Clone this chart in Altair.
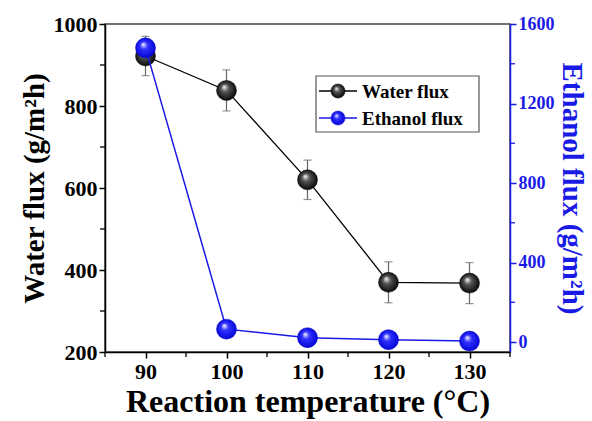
import altair as alt
import pandas as pd

temps = [90, 100, 110, 120, 130]
water = [922, 838, 620, 370, 368]
water_err = [48, 50, 48, 50, 50]
ethanol = [1480, 65, 22, 12, 5]
ethanol_err = [30, 35, 35, 35, 35]

x_minor = [85, 95, 105, 115, 125, 135]
yw_minor = [300, 500, 700, 900]
ye_minor = [200, 600, 1000, 1400]

df = pd.DataFrame({
    "T": temps, "water": water, "ethanol": ethanol,
    "w_lo": [v - e for v, e in zip(water, water_err)],
    "w_hi": [v + e for v, e in zip(water, water_err)],
    "e_lo": [v - e for v, e in zip(ethanol, ethanol_err)],
    "e_hi": [v + e for v, e in zip(ethanol, ethanol_err)],
})

FONT = "Liberation Serif"
BLUE = "#1a1ae6"

def sphere(dark, light):
    return alt.Gradient(
        gradient="radial", x1=0.38, y1=0.32, r1=0.0, x2=0.5, y2=0.5, r2=0.55,
        stops=[alt.GradientStop(offset=0, color="#ffffff"),
               alt.GradientStop(offset=0.35, color=light),
               alt.GradientStop(offset=1, color=dark)])

black_sphere = sphere("#000000", "#555555")
blue_sphere = sphere("#0000d0", "#3030ff")

x_scale = alt.Scale(domain=[85, 135], nice=False, zero=False)
x = alt.X("T:Q", scale=x_scale,
          axis=alt.Axis(values=temps, format="d", title="Reaction temperature (°C)", grid=False,
                        labelFont=FONT, labelFontSize=22, labelFontWeight="bold",
                        labelColor="black", titleFont=FONT, titleFontSize=32,
                        titleFontWeight="bold", titleColor="black",
                        domainColor="black", domainWidth=1.5, tickColor="black",
                        tickWidth=1.5, tickSize=6, labelPadding=3, titlePadding=4))

yw_scale = alt.Scale(domain=[200, 1000], nice=False, zero=False)
ye_scale = alt.Scale(domain=[-50, 1600], nice=False, zero=False)

yw_axis = alt.Axis(orient="left", values=[200, 400, 600, 800, 1000], format="d",
                   title="Water flux (g/m²h)", grid=False,
                   labelFont=FONT, labelFontSize=22, labelFontWeight="bold",
                   labelColor="black", titleFont=FONT, titleFontSize=29,
                   titleFontWeight="bold", titleColor="black",
                   domainColor="black", domainWidth=1.5, tickColor="black",
                   tickWidth=1.5, tickSize=6, labelPadding=2, titlePadding=4)
ye_axis = alt.Axis(orient="right", values=[0, 400, 800, 1200, 1600], format="d",
                   title="Ethanol flux (g/m²h)", grid=False,
                   labelFont=FONT, labelFontSize=18, labelFontWeight="bold",
                   labelColor=BLUE, titleFont=FONT, titleFontSize=29,
                   titleFontWeight="bold", titleColor=BLUE,
                   domainColor=BLUE, domainWidth=1.5, tickColor=BLUE,
                   tickWidth=1.5, tickSize=6, labelPadding=2, titlePadding=2)

base = alt.Chart(df)

w_line = base.mark_line(color="black", strokeWidth=1.3).encode(
    x=x, y=alt.Y("water:Q", scale=yw_scale, axis=yw_axis))
w_err = base.mark_rule(color="#666666", strokeWidth=1.2).encode(
    x="T:Q", y=alt.Y("w_lo:Q", scale=yw_scale), y2="w_hi:Q")
w_cap_lo = base.mark_tick(color="#666666", orient="horizontal", size=8, thickness=1.2).encode(
    x="T:Q", y=alt.Y("w_lo:Q", scale=yw_scale))
w_cap_hi = base.mark_tick(color="#666666", orient="horizontal", size=8, thickness=1.2).encode(
    x="T:Q", y=alt.Y("w_hi:Q", scale=yw_scale))
w_pts = base.mark_circle(size=400, opacity=1, fill=black_sphere, stroke="#000000",
                         strokeWidth=0.5).encode(
    x="T:Q", y=alt.Y("water:Q", scale=yw_scale))
w_minor = alt.Chart(pd.DataFrame({"m": yw_minor})).mark_rule(
    color="black", strokeWidth=1.3).encode(
    y=alt.Y("m:Q", scale=yw_scale), x=alt.value(-5), x2=alt.value(0))

water_layer = alt.layer(w_line, w_err, w_cap_lo, w_cap_hi, w_pts, w_minor)

e_line = base.mark_line(color=BLUE, strokeWidth=1.5).encode(
    x="T:Q", y=alt.Y("ethanol:Q", scale=ye_scale, axis=ye_axis))
e_err = base.mark_rule(color="#666666", strokeWidth=1.2).encode(
    x="T:Q", y=alt.Y("e_lo:Q", scale=ye_scale), y2="e_hi:Q")
e_cap_lo = base.mark_tick(color="#666666", orient="horizontal", size=8, thickness=1.2).encode(
    x="T:Q", y=alt.Y("e_lo:Q", scale=ye_scale))
e_cap_hi = base.mark_tick(color="#666666", orient="horizontal", size=8, thickness=1.2).encode(
    x="T:Q", y=alt.Y("e_hi:Q", scale=ye_scale))
e_pts = base.mark_circle(size=400, opacity=1, fill=blue_sphere, stroke="#0000d0",
                         strokeWidth=0.5).encode(
    x="T:Q", y=alt.Y("ethanol:Q", scale=ye_scale))
e_minor = alt.Chart(pd.DataFrame({"m": ye_minor})).mark_rule(
    color=BLUE, strokeWidth=1.3).encode(
    y=alt.Y("m:Q", scale=ye_scale), x=alt.value(405), x2=alt.value(410))

ethanol_layer = alt.layer(e_line, e_err, e_cap_lo, e_cap_hi, e_pts, e_minor)

x_minor_layer = alt.Chart(pd.DataFrame({"m": x_minor})).mark_rule(
    color="black", strokeWidth=1.3).encode(
    x=alt.X("m:Q", scale=x_scale), y=alt.value(328), y2=alt.value(333))

# manual legend
legend_labels = ["Water flux", "Ethanol flux"]
leg_colors = ["black", BLUE]
leg_box = alt.Chart(pd.DataFrame({"a": [0]})).mark_rect(
    fill="white", stroke="#555555", strokeWidth=1.2).encode(
    x=alt.value(211), x2=alt.value(374), y=alt.value(52), y2=alt.value(108))
leg_items = []
for i, (lab, col, grad) in enumerate(zip(legend_labels, leg_colors, [black_sphere, blue_sphere])):
    yy = 67 + i * 27
    d = pd.DataFrame({"lab": [lab]})
    leg_items.append(alt.Chart(d).mark_rule(color=col, strokeWidth=1.5).encode(
        x=alt.value(214), x2=alt.value(252), y=alt.value(yy)))
    leg_items.append(alt.Chart(d).mark_circle(size=200, opacity=1, fill=grad,
                                               stroke=col, strokeWidth=0.5).encode(
        x=alt.value(233), y=alt.value(yy)))
    leg_items.append(alt.Chart(d).mark_text(align="left", baseline="middle", font=FONT,
                                             fontSize=19, fontWeight="bold", color="black").encode(
        x=alt.value(257), y=alt.value(yy + 1), text="lab:N"))

legend = alt.layer(leg_box, *leg_items)

chart = alt.layer(x_minor_layer, water_layer, ethanol_layer, legend).resolve_scale(
    y="independent"
).properties(
    width=405, height=328,
    padding={"left": 105, "top": 24, "right": 82, "bottom": 69},
    autosize=alt.AutoSizeParams(type="none"),
    background="white",
).configure_view(stroke="#444444", strokeWidth=1.5)

chart.save("out.html", embed_options={"renderer": "svg", "actions": False})
